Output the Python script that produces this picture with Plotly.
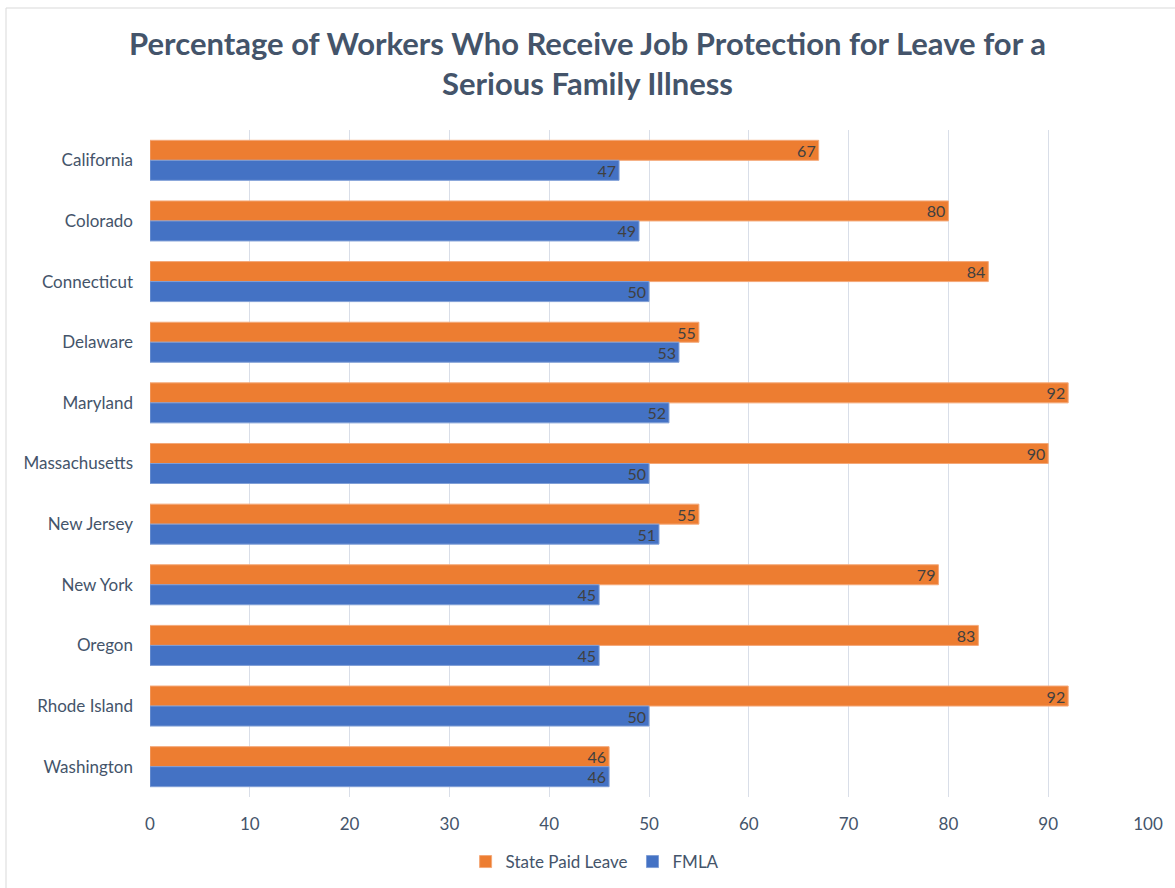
import plotly.graph_objects as go

states = ["California", "Colorado", "Connecticut", "Delaware", "Maryland", "Massachusetts",
          "New Jersey", "New York", "Oregon", "Rhode Island", "Washington"]
state_paid_leave = [67, 80, 84, 55, 92, 90, 55, 79, 83, 92, 46]
fmla = [47, 49, 50, 53, 52, 50, 51, 45, 45, 50, 46]
x_ticks = [0, 10, 20, 30, 40, 50, 60, 70, 80, 90, 100]

label_color = "#44546A"
font_family = "Lato, Calibri, Carlito, sans-serif"

fig = go.Figure()
fig.add_trace(go.Bar(
    y=states, x=state_paid_leave, name="State Paid Leave", orientation="h",
    marker=dict(color="#ED7D31", line=dict(color="#F4A878", width=1)),
    text=state_paid_leave, textposition="inside", insidetextanchor="end", textangle=0,
    constraintext="none",
    textfont=dict(color="#404040", size=16, family=font_family),
))
fig.add_trace(go.Bar(
    y=states, x=fmla, name="FMLA", orientation="h",
    marker=dict(color="#4472C4", line=dict(color="#7F9ED6", width=1)),
    text=fmla, textposition="inside", insidetextanchor="end", textangle=0,
    constraintext="none",
    textfont=dict(color="#404040", size=16, family=font_family),
))

fig.update_layout(
    width=1175, height=888,
    paper_bgcolor="white", plot_bgcolor="white",
    margin=dict(l=150, r=27, t=130, b=91, autoexpand=False),
    barmode="group", bargap=0.34, bargroupgap=0,
    title=dict(
        text="<b>Percentage of Workers Who Receive Job Protection for Leave for a<br>Serious Family Illness</b>",
        x=0.5, xanchor="center", y=1 - 55 / 888, yanchor="middle",
        font=dict(family=font_family, size=31, color=label_color),
    ),
    font=dict(family=font_family, size=17, color=label_color),
    xaxis=dict(
        range=[0, 100], tickvals=x_ticks, showgrid=True, gridcolor="#D9DEE8", gridwidth=1,
        zeroline=False, showline=False, ticks="", tickfont=dict(size=17, color=label_color),
        ticklabelstandoff=15,
    ),
    yaxis=dict(
        autorange="reversed", showgrid=False, showline=False, ticks="",
        tickfont=dict(size=17, color=label_color), ticklabelstandoff=16,
    ),
    legend=dict(
        orientation="h", x=0.446, xanchor="center", y=-65 / 667, yanchor="middle",
        font=dict(size=17, color=label_color), itemwidth=30,
    ),
    shapes=[dict(
        type="rect", xref="paper", yref="paper",
        x0=-144 / 998, x1=1 + 40 / 998, y0=-120 / 667, y1=1 + 122 / 667,
        line=dict(color="#D9D9D9", width=1), fillcolor="rgba(0,0,0,0)", layer="below",
    )],
)

fig.write_html("out.html")
